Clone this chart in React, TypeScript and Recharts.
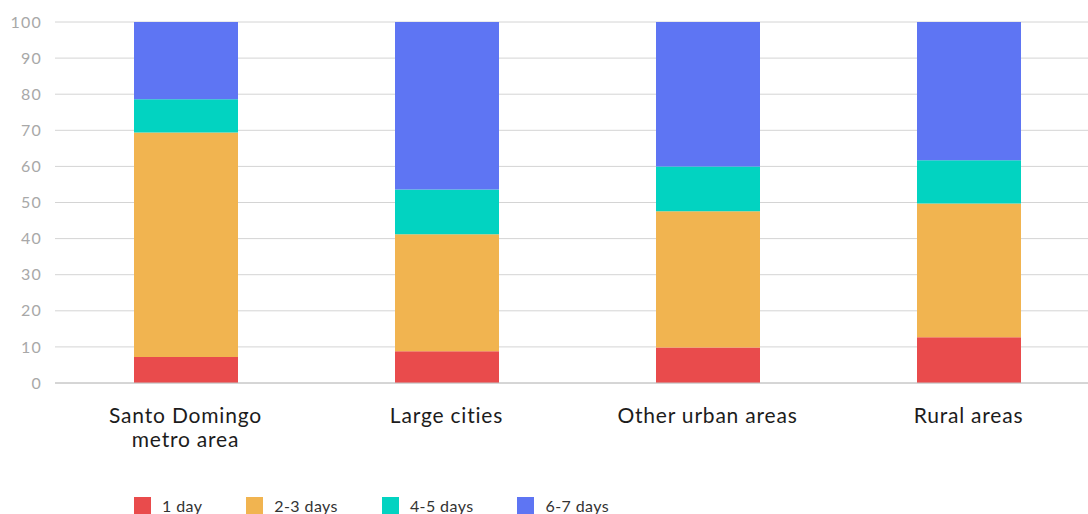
import React from "react";
import { Bar, BarChart, CartesianGrid, Legend, XAxis, YAxis } from "recharts";

// share of respondents (%) by area type
const categories = ["Santo Domingo\nmetro area", "Large cities", "Other urban areas", "Rural areas"];
const oneDay = [7.2, 8.8, 9.8, 12.7];
const twoThreeDays = [62.2, 32.4, 37.8, 37.0];
const fourFiveDays = [9.2, 12.4, 12.4, 12.0];
const sixSevenDays = [21.4, 46.4, 40.0, 38.3];
const yTicks = [0, 10, 20, 30, 40, 50, 60, 70, 80, 90, 100];

const SERIES = [
  { key: "oneDay", name: "1 day", color: "#e94b4c", values: oneDay },
  { key: "twoThree", name: "2-3 days", color: "#f1b450", values: twoThreeDays },
  { key: "fourFive", name: "4-5 days", color: "#02d3c1", values: fourFiveDays },
  { key: "sixSeven", name: "6-7 days", color: "#5e75f3", values: sixSevenDays },
];

const rows = categories.map((name, i) => {
  const row: Record<string, string | number> = { name };
  SERIES.forEach((s) => {
    row[s.key] = s.values[i];
  });
  return row;
});

const FONT = "Lato, 'Noto Sans', sans-serif";

function CategoryTick({ x, y, payload }: { x: number; y: number; payload: { value: string } }) {
  const lines = String(payload.value).split("\n");
  return (
    <text
      x={x}
      y={y}
      textAnchor="middle"
      fill="#1c1c1c"
      fontSize={21}
      fontFamily={FONT}
      letterSpacing={0.8}
    >
      {lines.map((line, i) => (
        <tspan key={i} x={x} dy={i === 0 ? 40 : 23.5}>
          {line}
        </tspan>
      ))}
    </text>
  );
}

function SwatchLegend() {
  return (
    <div style={{ display: "flex", alignItems: "center", paddingLeft: 134, fontFamily: FONT }}>
      {SERIES.map((s) => (
        <div key={s.key} style={{ display: "flex", alignItems: "center", marginRight: 44 }}>
          <span style={{ width: 17, height: 17, background: s.color, display: "inline-block" }} />
          <span style={{ marginLeft: 11, fontSize: 16, color: "#333", lineHeight: "19px", letterSpacing: 0.4 }}>
            {s.name}
          </span>
        </div>
      ))}
    </div>
  );
}

export default function App() {
  return (
    <div
      style={{
        position: "absolute",
        top: 0,
        left: 0,
        width: 1088,
        height: 514,
        overflow: "hidden",
        background: "#fff",
      }}
    >
      <BarChart width={1099} height={514} data={rows} margin={{ top: 22, right: 0, left: 0, bottom: 0 }}>
        <CartesianGrid vertical={false} stroke="#d4d4d4" />
        <XAxis
          dataKey="name"
          height={131}
          tick={CategoryTick}
          tickLine={false}
          tickSize={0}
          tickMargin={0}
          axisLine={{ stroke: "#c2c2c2" }}
          interval={0}
        />
        <YAxis
          domain={[0, 100]}
          ticks={yTicks}
          width={55}
          tick={{ fill: "#a8a8a8", fontSize: 16, fontFamily: FONT, letterSpacing: 1.2 }}
          tickLine={false}
          tickSize={0}
          tickMargin={13}
          axisLine={false}
        />
        <Legend
          layout="horizontal"
          verticalAlign="middle"
          align="center"
          content={SwatchLegend}
          wrapperStyle={{ top: 496, left: 0, width: 1088 }}
        />
        {SERIES.map((s) => (
          <Bar
            key={s.key}
            dataKey={s.key}
            name={s.name}
            stackId="a"
            fill={s.color}
            barSize={104}
            isAnimationActive={false}
          />
        ))}
      </BarChart>
    </div>
  );
}
